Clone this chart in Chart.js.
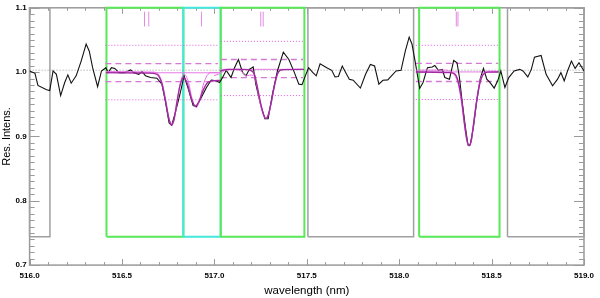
<!DOCTYPE html>
<html><head><meta charset="utf-8">
<script src="https://cdn.jsdelivr.net/npm/chart.js@4"></script>
<style>html,body{margin:0;padding:0;background:#fff}canvas{display:block}</style>
</head><body>
<canvas id="c" width="600" height="298"></canvas>
<script>
// ---- data ----
const wavelength = [516.000,516.029,516.045,516.092,516.109,516.127,516.145,516.168,516.190,516.207,516.225,516.252,516.279,516.306,516.323,516.341,516.368,516.389,516.413,516.425,516.443,516.461,516.484,516.511,516.547,516.564,516.591,516.609,516.627,516.654,516.689,516.716,516.734,516.755,516.769,516.787,516.814,516.836,516.859,516.885,516.903,516.930,516.957,516.983,517.010,517.028,517.046,517.064,517.090,517.109,517.130,517.153,517.171,517.189,517.210,517.224,517.251,517.273,517.291,517.314,517.341,517.373,517.403,517.433,517.457,517.474,517.492,517.510,517.533,517.551,517.572,517.608,517.635,517.653,517.671,517.692,517.711,517.730,517.751,517.790,517.818,517.844,517.867,517.890,517.912,517.938,517.983,518.010,518.033,518.054,518.069,518.086,518.111,518.129,518.153,518.179,518.193,518.212,518.233,518.247,518.272,518.295,518.313,518.326,518.340,518.358,518.372,518.384,518.402,518.420,518.438,518.456,518.474,518.491,518.514,518.533,518.550,518.572,518.593,518.622,518.652,518.670,518.696,518.715,518.732,518.768,518.795,518.830,518.857,518.875,518.893,518.911,518.932,518.952,518.973,519.000];
const intensity = [1.0018,0.9982,0.9793,0.9727,0.9712,1.0018,0.9966,0.9635,0.9839,0.9957,0.9828,0.9942,1.0172,1.0437,1.0325,1.0069,0.9773,1.0018,1.0069,0.9992,1.0069,1.0058,0.9992,0.9992,1.0034,0.9992,0.9966,1.0008,0.9942,0.9916,0.9905,0.9813,0.9558,0.9210,0.9175,0.9353,0.9660,0.9942,0.9736,0.9482,0.9466,0.9609,0.9762,0.9877,0.9865,0.9839,0.9926,1.0028,0.9916,1.0069,1.0196,0.9992,0.9942,1.0043,1.0080,0.9813,0.9482,0.9276,0.9276,0.9660,1.0018,1.0310,1.0196,0.9992,0.9813,0.9804,0.9942,1.0069,0.9992,0.9942,1.0130,1.0069,1.0028,0.9926,0.9931,1.0095,0.9992,0.9890,0.9874,0.9752,0.9966,1.0120,1.0095,0.9813,0.9874,0.9880,1.0018,1.0028,1.0325,1.0544,1.0437,1.0172,0.9747,0.9839,1.0069,1.0080,1.0104,1.0028,1.0043,0.9916,0.9890,1.0181,1.0146,0.9916,0.9558,0.9149,0.8868,0.8868,0.9149,0.9558,0.9890,1.0058,0.9890,0.9839,0.9752,0.9865,1.0018,0.9762,0.9916,1.0018,1.0043,1.0018,0.9926,1.0043,1.0233,1.0258,0.9966,0.9788,0.9890,0.9992,0.9865,1.0018,1.0172,1.0058,1.0146,1.0018];

// fitted profiles (two models per window)
const fit1Wave = [516.414,516.645,516.687,516.714,516.736,516.754,516.768,516.781,516.797,516.813,516.832,516.853,516.875,516.896,516.917,516.939,516.961,516.987,517.030];
const fit1Int  = [0.9992,0.9985,0.9969,0.9839,0.9548,0.9271,0.9179,0.9256,0.9532,0.9778,0.9916,0.9824,0.9594,0.9471,0.9548,0.9716,0.9831,0.9862,0.9870];
const fit1bWave = [516.414,516.671,516.698,516.720,516.738,516.757,516.770,516.784,516.800,516.816,516.835,516.859,516.880,516.902,516.920,516.939,516.960,516.982,517.030];
const fit1bInt  = [1.0008,1.0000,0.9962,0.9808,0.9532,0.9256,0.9195,0.9287,0.9563,0.9839,0.9969,0.9854,0.9578,0.9448,0.9563,0.9793,0.9946,0.9992,0.9992];
const fit2Wave = [517.030,517.073,517.153,517.191,517.217,517.233,517.249,517.265,517.279,517.292,517.308,517.324,517.340,517.362,517.485];
const fit2Int  = [1.0015,1.0043,1.0043,1.0031,0.9962,0.9762,0.9532,0.9348,0.9279,0.9340,0.9532,0.9778,0.9962,1.0038,1.0043];
const fit2bWave = [516.998,517.030,517.062,517.116,517.148,517.172,517.191,517.212,517.228,517.246,517.265,517.279,517.292,517.311,517.330,517.351,517.394,517.485];
const fit2bInt  = [0.9946,0.9977,1.0031,1.0038,1.0008,0.9939,0.9954,0.9946,0.9808,0.9532,0.9333,0.9271,0.9333,0.9563,0.9839,1.0015,1.0043,1.0043];
const fit3Wave = [518.090,518.277,518.304,518.323,518.339,518.352,518.366,518.378,518.390,518.403,518.419,518.435,518.454,518.481,518.539];
const fit3Int  = [1.0003,0.9992,0.9962,0.9808,0.9548,0.9225,0.8949,0.8857,0.8934,0.9210,0.9548,0.9808,0.9962,1.0000,1.0003];
const fit3bWave = [518.090,518.251,518.283,518.304,518.320,518.336,518.352,518.366,518.378,518.390,518.403,518.419,518.435,518.454,518.481,518.539];
const fit3bInt  = [1.0031,1.0031,1.0000,0.9931,0.9808,0.9548,0.9210,0.8934,0.8850,0.8926,0.9210,0.9563,0.9839,0.9977,1.0015,1.0015];

// per-window levels
const levelStart = [516.41, 517.035, 518.09];
const levelEnd   = [517.02, 517.48, 518.536];
const contLevel  = [0.9990, 1.0043, 1.0003];
const dashHigh   = [1.0133, 1.0196, 1.0135];
const dashLow    = [0.9852, 0.9916, 0.9854];
const dotHigh    = [1.0417, 1.0479, 1.0417];
const dotLow     = [0.9570, 0.9635, 0.9574];

// line markers near top
const markerWave = [516.622, 516.645, 516.930, 517.251, 517.264, 518.309, 518.318];
const markerTop = 1.094, markerBottom = 1.071;

// windows
const grayStart  = [516.0, 517.506, 518.586];
const grayEnd    = [516.11, 518.078, 519.0];
const greenStart = [516.416, 517.034, 518.108];
const greenEnd   = [516.832, 517.487, 518.543];
const cyanStart  = [516.832];
const cyanEnd    = [517.034];
const boxBottom = 0.744, boxTop = 1.1;
const refLevel = 1.003;

// axis ranges / ticks
const xMin = 516.0, xMax = 519.0, xStep = 0.5, xMinor = 0.1;
const yMin = 0.7, yMax = 1.1, yStep = 0.1, yMinor = 0.01;

// ---- build datasets ----
const pts = (xs, ys) => xs.map((x, i) => ({x, y: ys[i]}));
const ds = [];
function add(o){ ds.push(Object.assign({showLine:true, pointRadius:0, borderWidth:1, fill:false, tension:0}, o)); }

add({data: pts(fit1Wave, fit1Int), borderColor:'#a42aa4', borderWidth:1.4, cubicInterpolationMode:'monotone', order:0});
add({data: pts(fit2Wave, fit2Int), borderColor:'#a42aa4', borderWidth:1.4, cubicInterpolationMode:'monotone', order:0});
add({data: pts(fit3Wave, fit3Int), borderColor:'#a42aa4', borderWidth:1.4, cubicInterpolationMode:'monotone', order:0});
add({data: pts(fit1bWave, fit1bInt), borderColor:'#e86ee8', borderWidth:1, cubicInterpolationMode:'monotone', order:1});
add({data: pts(fit2bWave, fit2bInt), borderColor:'#e86ee8', borderWidth:1, cubicInterpolationMode:'monotone', order:1});
add({data: pts(fit3bWave, fit3bInt), borderColor:'#e86ee8', borderWidth:1, cubicInterpolationMode:'monotone', order:1});
add({data: pts(wavelength, intensity), borderColor:'#111111', borderWidth:1.1, order:2});

for (let i = 0; i < levelStart.length; i++) {
  const a = levelStart[i], b = levelEnd[i];
  add({data:[{x:a,y:contLevel[i]},{x:b,y:contLevel[i]}], borderColor:'#e67ae6', borderWidth:1, order:3});
  add({data:[{x:a,y:dashHigh[i]},{x:b,y:dashHigh[i]}], borderColor:'#d37ad3', borderWidth:1.3, borderDash:[6,4], order:3});
  add({data:[{x:a,y:dashLow[i]},{x:b,y:dashLow[i]}], borderColor:'#d37ad3', borderWidth:1.3, borderDash:[6,4], order:3});
  add({data:[{x:a,y:dotHigh[i]},{x:b,y:dotHigh[i]}], borderColor:'#dc5adc', borderWidth:1, borderDash:[1,2], order:3});
  add({data:[{x:a,y:dotLow[i]},{x:b,y:dotLow[i]}], borderColor:'#dc5adc', borderWidth:1, borderDash:[1,2], order:3});
}
markerWave.forEach(w => add({data:[{x:w,y:markerBottom},{x:w,y:markerTop}], borderColor:'#e28ae2', borderWidth:1, order:3}));
add({data:[{x:xMin,y:refLevel},{x:xMax,y:refLevel}], borderColor:'#9a9a9a', borderWidth:1, borderDash:[1,2], order:4});

function box(a, b, color, w, order){
  add({data:[{x:a,y:boxBottom},{x:a,y:boxTop},{x:b,y:boxTop},{x:b,y:boxBottom},{x:a,y:boxBottom}],
       borderColor:color, borderWidth:w, borderJoinStyle:'miter', clip:false, order});
}
for (let i = 0; i < grayStart.length; i++) box(grayStart[i], grayEnd[i], '#a0a0a0', 1.5, 8);
box(greenStart[0], greenEnd[0], '#58e858', 2, 7);
box(cyanStart[0], cyanEnd[0], '#44e8dc', 2, 6);
box(greenStart[1], greenEnd[1], '#58e858', 2, 5);
box(greenStart[2], greenEnd[2], '#58e858', 2, 5);

// ---- frame + inward ticks (IDL style) ----
const framePlugin = {
  id:'frame',
  beforeDatasetsDraw(chart){
    const {ctx, chartArea:ca, scales:{x, y}} = chart;
    ctx.save();
    ctx.strokeStyle = '#9a9a9a';
    ctx.lineWidth = 1.5;
    ctx.strokeRect(ca.left, ca.top, ca.right - ca.left, ca.bottom - ca.top);
    ctx.lineWidth = 1;
    ctx.beginPath();
    const nx = Math.round((x.max - x.min) / xMinor);
    for (let i = 0; i <= nx; i++) {
      const v = x.min + i * xMinor;
      const p = Math.round(x.getPixelForValue(v)) + 0.5;
      const major = Math.abs(v / xStep - Math.round(v / xStep)) < 1e-6;
      const len = major ? 6 : 3;
      ctx.moveTo(p, ca.bottom); ctx.lineTo(p, ca.bottom - len);
      ctx.moveTo(p, ca.top); ctx.lineTo(p, ca.top + len);
    }
    const ny = Math.round((y.max - y.min) / yMinor);
    for (let i = 0; i <= ny; i++) {
      const v = y.min + i * yMinor;
      const p = Math.round(y.getPixelForValue(v)) + 0.5;
      const major = i % Math.round(yStep / yMinor) === 0;
      const len = major ? 10 : 5;
      ctx.moveTo(ca.left, p); ctx.lineTo(ca.left + len, p);
      ctx.moveTo(ca.right, p); ctx.lineTo(ca.right - len, p);
    }
    ctx.stroke();
    ctx.restore();
  }
};

const tickFont = {family:'"Liberation Sans", Arial, sans-serif', size:8, weight:'bold'};
new Chart(document.getElementById('c'), {
  type:'scatter',
  data:{datasets: ds},
  options:{
    responsive:false, animation:false, devicePixelRatio:1,
    layout:{padding:{left:0, top:4.3, right:10, bottom:0}},
    plugins:{legend:{display:false}, tooltip:{enabled:false}},
    scales:{
      x:{type:'linear', min:xMin, max:xMax,
         grid:{display:false, drawTicks:false}, border:{display:false},
         ticks:{stepSize:xStep, color:'#000', font:tickFont, padding:6, maxRotation:0, autoSkip:false,
                callback:v => Number(v).toFixed(1)},
         title:{display:true, text:'wavelength (nm)', color:'#000', padding:{top:0,bottom:0},
                font:{family:'"Liberation Sans", Arial, sans-serif', size:11.5}},
         afterFit:s => { s.height = 32.9; }},
      y:{type:'linear', min:yMin, max:yMax,
         grid:{display:false, drawTicks:false}, border:{display:false},
         ticks:{stepSize:yStep, color:'#000', font:tickFont, padding:3,
                callback:v => Number(v).toFixed(1)},
         title:{display:true, text:'Res. Intens.', color:'#000', padding:{top:0,bottom:0},
                font:{family:'"Liberation Sans", Arial, sans-serif', size:11}},
         afterFit:s => { s.width = 29.6; }}
    }
  },
  plugins:[framePlugin]
});
</script>
</body></html>
